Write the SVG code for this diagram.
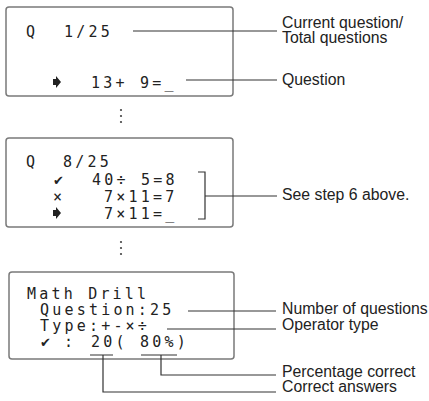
<svg xmlns="http://www.w3.org/2000/svg" width="429" height="401" viewBox="0 0 429 401">
<style>
.box{fill:#fff;stroke:#7a7a7a;stroke-width:1.5}
.lcd{font-family:"DejaVu Sans Mono","Liberation Mono",monospace;font-size:15px;letter-spacing:3.2px;fill:#222}
.ico{font-family:"DejaVu Sans","Noto Sans",sans-serif;font-size:13px;fill:#222}
.lbl{font-family:"Liberation Sans",Arial,sans-serif;font-size:15.8px;fill:#222}
.ln{stroke:#333;stroke-width:1.2;fill:none}
.dot{fill:#444}
.arw{fill:#222}
</style>
<defs>
<path id="arrow" d="M0 -3 H3 V-6 L8 0 L3 6 V3 H0 Z"/>
</defs>
<rect width="429" height="401" fill="#fff"/>
<g id="screen1">
<rect class="box" x="6" y="7" width="227" height="89" rx="3"/>
<text class="lcd" x="26" y="37">Q</text>
<text class="lcd" x="64" y="37">1/25</text>
<use href="#arrow" class="arw" x="53" y="82"/>
<text class="lcd" x="91" y="88">13+ 9=_</text>
</g>
<g id="dots1">
<circle class="dot" cx="121" cy="110" r="1.1"/>
<circle class="dot" cx="121" cy="116" r="1.1"/>
<circle class="dot" cx="121" cy="122" r="1.1"/>
</g>
<g id="screen2">
<rect class="box" x="6" y="138" width="227" height="89" rx="3"/>
<text class="lcd" x="26" y="167">Q</text>
<text class="lcd" x="63" y="167">8/25</text>
<text class="ico" x="53" y="185">✔</text>
<text class="lcd" x="92" y="185">40÷ 5=8</text>
<text class="lcd" x="53" y="202">×</text>
<text class="lcd" x="104" y="202">7×11=7</text>
<use href="#arrow" class="arw" x="53" y="213"/>
<text class="lcd" x="104" y="219">7×11=_</text>
</g>
<g id="dots2">
<circle class="dot" cx="121" cy="242" r="1.1"/>
<circle class="dot" cx="121" cy="248" r="1.1"/>
<circle class="dot" cx="121" cy="254" r="1.1"/>
</g>
<g id="screen3">
<rect class="box" x="9" y="272" width="225" height="87" rx="3"/>
<text class="lcd" x="27" y="299">Math Drill</text>
<text class="lcd" x="40" y="315">Question:25</text>
<text class="lcd" x="40" y="331">Type:+-×÷</text>
<text class="ico" x="40" y="347">✔</text>
<text class="lcd" x="64" y="347">:</text>
<text class="lcd" x="91" y="347">20(</text>
<text class="lcd" x="140" y="347">80%)</text>
</g>
<g id="labels">
<text class="lbl" x="282" y="28">Current question/</text>
<text class="lbl" x="282" y="43">Total questions</text>
<text class="lbl" x="282" y="85">Question</text>
<text class="lbl" x="282" y="200">See step 6 above.</text>
<text class="lbl" x="282" y="314">Number of questions</text>
<text class="lbl" x="282" y="330">Operator type</text>
<text class="lbl" x="282" y="377">Percentage correct</text>
<text class="lbl" x="282" y="392">Correct answers</text>
</g>
<g id="connectors">
<path class="ln" d="M133 31H277"/>
<path class="ln" d="M186 80H277"/>
<path class="ln" d="M198 172H205V219H198M205 196H277"/>
<path class="ln" d="M188 311H276"/>
<path class="ln" d="M167 329H276"/>
<path class="ln" d="M90 355H113M103 355V392H276"/>
<path class="ln" d="M141 355H177M161 355V375H276"/>
</g>
</svg>
